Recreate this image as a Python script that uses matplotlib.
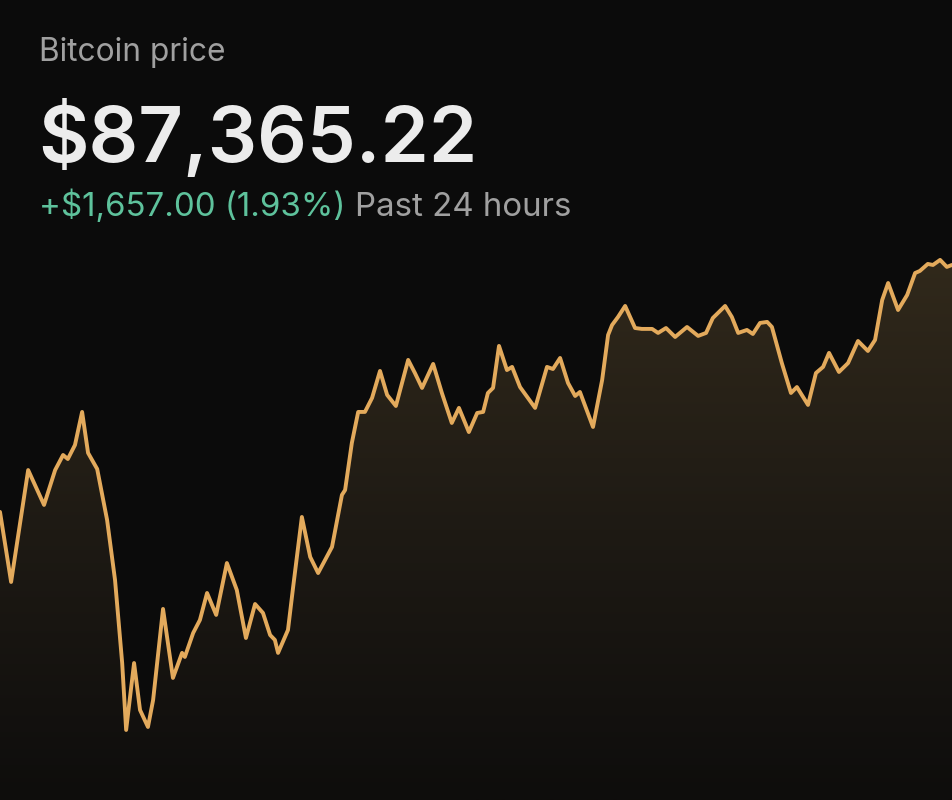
import matplotlib
matplotlib.use("Agg")
import matplotlib.pyplot as plt
import numpy as np
from matplotlib.colors import LinearSegmentedColormap

# ---- data ----
title = "Bitcoin price"
current_price = "$87,365.22"
change_text = "+$1,657.00 (1.93%)"
period_text = "Past 24 hours"

hours = [0.00, 0.28, 0.71, 1.11, 1.39, 1.59, 1.71, 1.89, 2.07, 2.22,
         2.45, 2.70, 2.90, 3.08, 3.18, 3.38, 3.53, 3.73, 3.86, 4.11,
         4.36, 4.59, 4.66, 4.87, 5.04, 5.22, 5.45, 5.72, 5.97, 6.20,
         6.43, 6.63, 6.81, 6.93, 7.01, 7.26, 7.39, 7.61, 7.82, 8.02,
         8.37, 8.62, 8.70, 8.87, 9.03, 9.20, 9.38, 9.58, 9.76, 9.98,
         10.29, 10.46, 10.64, 10.92, 11.14, 11.39, 11.57, 11.82, 12.03, 12.18,
         12.30, 12.43, 12.58, 12.78, 12.91, 13.11, 13.49, 13.79, 13.94, 14.12,
         14.32, 14.50, 14.62, 14.95, 15.18, 15.33, 15.43, 15.58, 15.76, 16.01,
         16.18, 16.44, 16.59, 16.79, 17.02, 17.32, 17.60, 17.80, 17.97, 18.28,
         18.45, 18.61, 18.83, 18.98, 19.16, 19.34, 19.46, 19.71, 19.94, 20.09,
         20.37, 20.57, 20.75, 20.90, 21.15, 21.38, 21.63, 21.88, 22.06, 22.24,
         22.39, 22.64, 22.87, 23.07, 23.19, 23.39, 23.52, 23.70, 23.87, 24.00]

prices = [85708, 85238, 85989, 85755, 85989, 86090, 86063, 86157, 86379, 86104,
          85996, 85654, 85251, 84694, 84245, 84694, 84379, 84265, 84446, 85057,
          84594, 84762, 84735, 84896, 84983, 85164, 85017, 85365, 85184, 84862,
          85090, 85030, 84882, 84849, 84762, 84916, 85204, 85674, 85406, 85298,
          85473, 85822, 85855, 86171, 86379, 86379, 86473, 86654, 86493, 86419,
          86728, 86640, 86540, 86701, 86506, 86305, 86406, 86244, 86372, 86379,
          86506, 86540, 86822, 86660, 86681, 86546, 86406, 86681, 86667, 86741,
          86573, 86486, 86513, 86278, 86593, 86895, 86962, 87016, 87090, 86942,
          86936, 86936, 86909, 86942, 86882, 86949, 86889, 86909, 87009, 87090,
          87016, 86909, 86929, 86902, 86976, 86983, 86949, 86707, 86506, 86546,
          86426, 86640, 86681, 86775, 86647, 86707, 86855, 86788, 86862, 87130,
          87244, 87063, 87164, 87311, 87325, 87372, 87365, 87399, 87352, 87365.22]

# ---- style ----
BG = "#0b0b0b"
LINE = "#e3aa5c"
GREEN = "#5ec29c"
GRAY = "#a0a0a0"
WHITE = "#ececec"
FONT = "Inter"

fig = plt.figure(figsize=(9.52, 8.0), dpi=100, facecolor=BG)
ax = fig.add_axes([0, 0, 1, 1])
ax.set_facecolor(BG)
ax.set_xlim(0, 24)
ymin, ymax = 83775, 89143
ax.set_ylim(ymin, ymax)
ax.axis("off")

x = np.array(hours)
y = np.array(prices)

# gradient fill under line
poly = ax.fill_between(x, y, ymin, color="none", lw=0)
cmap = LinearSegmentedColormap.from_list("g", ["#0e0d0c", "#1e1a14", "#31291b"])
grad = np.linspace(0, 1, 256).reshape(-1, 1)
img = ax.imshow(grad, extent=[0, 24, ymin, y.max()], origin="lower",
                aspect="auto", cmap=cmap, zorder=1)
path = poly.get_paths()[0]
img.set_clip_path(path, transform=ax.transData)

ax.plot(x, y, color=LINE, lw=2.8, solid_joinstyle="round",
        solid_capstyle="round", zorder=3)

# ---- text ----
fig.text(39 / 952, 1 - 61 / 800, title, fontsize=22.8, color=GRAY,
         family=FONT, va="baseline", ha="left")
fig.text(38 / 952, 1 - 162 / 800, current_price, fontsize=56, color=WHITE,
         family=FONT, weight="semibold", va="baseline", ha="left")
t1 = fig.text(39 / 952, 1 - 216 / 800, change_text, fontsize=23.8, color=GREEN,
              family=FONT, va="baseline", ha="left")
ax.annotate(period_text, xy=(1, 0), xycoords=t1, xytext=(6.5, 0),
            textcoords="offset points", fontsize=23.8, color=GRAY,
            family=FONT, va="bottom", ha="left")

fig.savefig("out.png", dpi=100, facecolor=BG)
